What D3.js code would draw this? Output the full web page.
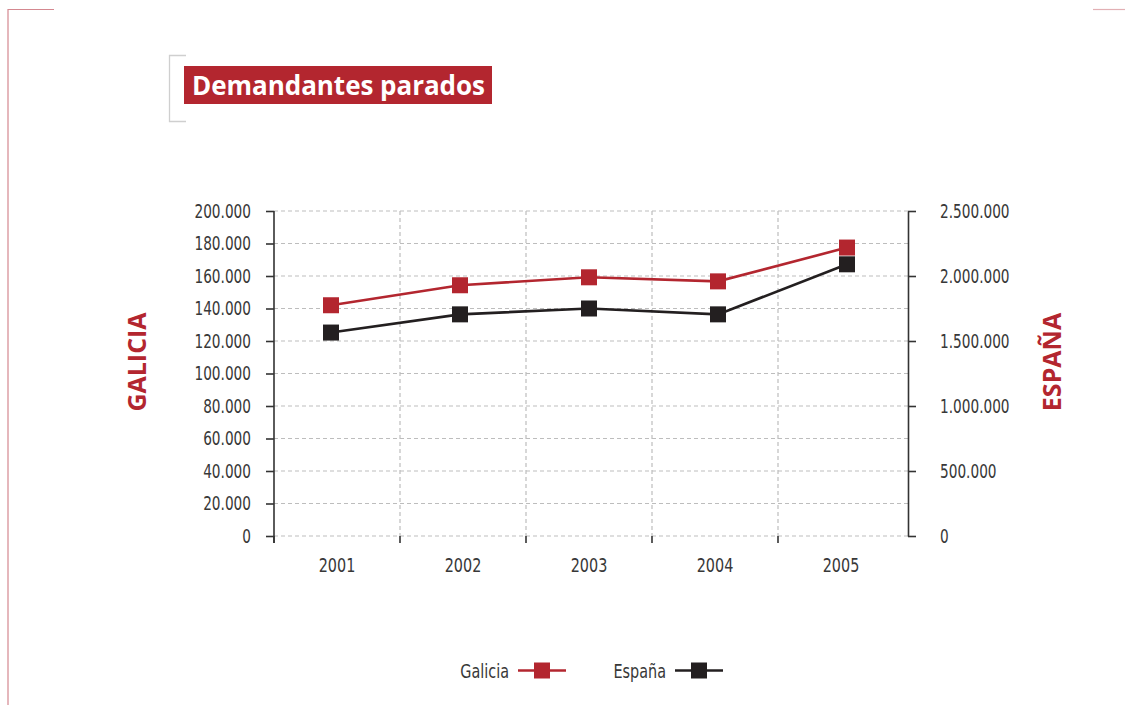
<!DOCTYPE html>
<html>
<head>
<meta charset="utf-8">
<script src="https://cdn.jsdelivr.net/npm/d3@7"></script>
<style>
	body { margin: 0; background: #fff; }
	svg { display: block; }
	.tick text, .lbl { font-family: "Liberation Sans Narrow", "DejaVu Sans", sans-serif; font-stretch: condensed; fill: #383838; }
	.domain, .tick line { stroke: #333; stroke-width: 1.6; }
</style>
</head>
<body>
<script>
// data
var years = ["2001", "2002", "2003", "2004", "2005"];
var galicia = [142000, 154300, 159200, 156700, 177500];
var espana = [1565000, 1705000, 1750000, 1705000, 2090000];
var leftTicks = [0, 20000, 40000, 60000, 80000, 100000, 120000, 140000, 160000, 180000, 200000];
var rightTicks = [0, 500000, 1000000, 1500000, 2000000, 2500000];

var red = "#b3262f";
var dark = "#231f20";
var W = 1125, H = 705;

var locale = d3.formatLocale({ decimal: ",", thousands: ".", grouping: [3], currency: ["", ""] });
var fmt = locale.format(",");

var svg = d3.select("body").append("svg")
	.attr("width", W)
	.attr("height", H);

// page frame
svg.append("path")
	.attr("d", "M 8 705 V 9.5 H 54")
	.style("fill", "none").style("stroke", "#d48890").style("stroke-width", 1.2);
svg.append("path")
	.attr("d", "M 1093 9.5 H 1125")
	.style("fill", "none").style("stroke", "#e2b0b4").style("stroke-width", 1.2);

// title bracket + box
svg.append("path")
	.attr("d", "M 186 55.5 H 169.5 V 121.5 H 186")
	.style("fill", "none").style("stroke", "#cfcfcf").style("stroke-width", 1.3);
svg.append("rect")
	.attr("x", 184).attr("y", 66)
	.attr("width", 308).attr("height", 38)
	.style("fill", red);
svg.append("text")
	.attr("x", 192).attr("y", 95)
	.attr("textLength", 293)
	.style("font-family", "'Open Sans', sans-serif")
	.style("font-weight", "bold")
	.style("font-size", "26px")
	.style("fill", "#fff")
	.text("Demandantes parados");

var plotL = 274, plotR = 908, plotT = 211, plotB = 536;

var xBand = d3.scaleBand().domain(years).range([plotL, 904]);
var xPt = d3.scalePoint().domain(years).range([331, 847]);
var yL = d3.scaleLinear().domain([0, 200000]).range([plotB, plotT]);
var yR = d3.scaleLinear().domain([0, 2500000]).range([plotB, plotT]);

// grid
var grid = svg.append("g").attr("class", "grid");
grid.selectAll(".hgrid")
	.data(leftTicks)
	.enter().append("line")
	.attr("x1", plotL).attr("x2", plotR)
	.attr("y1", function(d) { return yL(d); })
	.attr("y2", function(d) { return yL(d); })
	.style("stroke", "#bdbdbd").style("stroke-width", 1.2)
	.style("stroke-dasharray", "4,3");
grid.selectAll(".vgrid")
	.data(years.slice(1))
	.enter().append("line")
	.attr("x1", function(d) { return xBand(d); })
	.attr("x2", function(d) { return xBand(d); })
	.attr("y1", plotT).attr("y2", plotB)
	.style("stroke", "#bdbdbd").style("stroke-width", 1.2)
	.style("stroke-dasharray", "4,3");

// x axis: ticks at band edges, labels at band centres
var xa = svg.append("g").attr("transform", "translate(0," + plotB + ")");
xa.selectAll("line")
	.data(years)
	.enter().append("line")
	.attr("x1", function(d) { return xBand(d); })
	.attr("x2", function(d) { return xBand(d); })
	.attr("y1", 0).attr("y2", 7)
	.style("stroke", "#333").style("stroke-width", 1.6);
xa.selectAll("text")
	.data(years)
	.enter().append("text")
	.attr("class", "lbl")
	.attr("x", function(d) { return xBand(d) + xBand.bandwidth() / 2; })
	.attr("y", 36)
	.attr("text-anchor", "middle")
	.style("font-size", "20px")
	.text(function(d) { return d; });

// left axis
var la = svg.append("g")
	.attr("transform", "translate(" + plotL + ",0)")
	.call(d3.axisLeft(yL).tickValues(leftTicks).tickFormat(fmt).tickSizeInner(8).tickSizeOuter(0).tickPadding(15));
la.select(".domain").attr("d", "M0," + plotT + "V" + (plotB + 7));

// right axis
var ra = svg.append("g")
	.attr("transform", "translate(" + plotR + ",0)")
	.call(d3.axisRight(yR).tickValues(rightTicks).tickFormat(fmt).tickSizeInner(8).tickSizeOuter(0).tickPadding(24));

svg.selectAll(".tick text").attr("class", "lbl").style("font-size", "19px");

// squeeze the labels to look like the narrow face of the original
svg.selectAll(".lbl").each(function() {
	var w = this.getComputedTextLength();
	d3.select(this)
		.attr("lengthAdjust", "spacingAndGlyphs")
		.attr("textLength", w * 0.8);
});

// axis titles
svg.append("text")
	.attr("transform", "translate(146,362) rotate(-90)")
	.attr("text-anchor", "middle")
	.style("font-family", "'Open Sans', sans-serif")
	.style("font-weight", "bold")
	.style("font-size", "25px")
	.style("fill", red)
	.text("GALICIA");
svg.append("text")
	.attr("transform", "translate(1061,362) rotate(-90)")
	.attr("text-anchor", "middle")
	.style("font-family", "'Open Sans', sans-serif")
	.style("font-weight", "bold")
	.style("font-size", "25px")
	.style("fill", red)
	.text("ESPAÑA");

// series
var ms = 16;
function drawSeries(vals, yScale, color) {
	var line = d3.line()
		.x(function(d, i) { return xPt(years[i]); })
		.y(function(d) { return yScale(d); });
	svg.append("path")
		.datum(vals)
		.attr("d", line)
		.style("fill", "none")
		.style("stroke", color)
		.style("stroke-width", 2.6);
	svg.append("g").selectAll("rect")
		.data(vals)
		.enter().append("rect")
		.attr("x", function(d, i) { return xPt(years[i]) - ms / 2; })
		.attr("y", function(d) { return yScale(d) - ms / 2; })
		.attr("width", ms).attr("height", ms)
		.style("fill", color);
}
drawSeries(espana, yR, dark);
drawSeries(galicia, yL, red);

// legend
var legendItems = [
	{ name: "Galicia", color: red, tx: 509, lx: 518 },
	{ name: "España", color: dark, tx: 666, lx: 675 }
];
var lg = svg.append("g").attr("class", "legend");
legendItems.forEach(function(it) {
	var t = lg.append("text")
		.attr("class", "lbl")
		.attr("x", it.tx).attr("y", 678)
		.attr("text-anchor", "end")
		.style("font-size", "20px")
		.text(it.name);
	t.attr("lengthAdjust", "spacingAndGlyphs")
		.attr("textLength", t.node().getComputedTextLength() * 0.8);
	lg.append("line")
		.attr("x1", it.lx).attr("x2", it.lx + 48)
		.attr("y1", 670.5).attr("y2", 670.5)
		.style("stroke", it.color).style("stroke-width", 2.6);
	lg.append("rect")
		.attr("x", it.lx + 24 - ms / 2).attr("y", 670.5 - ms / 2)
		.attr("width", ms).attr("height", ms)
		.style("fill", it.color);
});
</script>
</body>
</html>
